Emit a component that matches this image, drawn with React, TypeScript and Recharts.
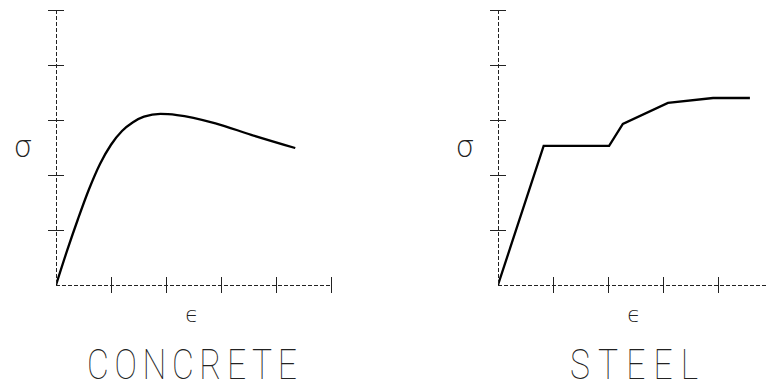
import { LineChart, Line, XAxis, YAxis } from 'recharts';

// strain / stress, axis units = one tick step
const concreteStrain = [0, 0.2, 0.4, 0.6, 0.8, 1.0, 1.2, 1.4, 1.6, 1.9, 2.2, 2.9, 3.55, 4.35];
const concreteStress = [0, 0.62, 1.2, 1.74, 2.2, 2.55, 2.8, 2.96, 3.06, 3.11, 3.09, 2.94, 2.73, 2.49];

const steelStrain = [0, 0.83, 2.02, 2.27, 3.09, 3.91, 4.58];
const steelStress = [0, 2.53, 2.53, 2.93, 3.31, 3.4, 3.4];

const tickValues = [1, 2, 3, 4, 5];

const concreteData = concreteStrain.map((e, i) => ({ strain: e, stress: concreteStress[i] }));
const steelData = steelStrain.map((e, i) => ({ strain: e, stress: steelStress[i] }));

const AXIS = '#222';

function XTick(props: any) {
  const { x, y } = props;
  return <line x1={x} x2={x} y1={y - 8} y2={y + 8} stroke={AXIS} strokeWidth={1} shapeRendering="crispEdges" />;
}

function YTick(props: any) {
  const { x, y } = props;
  return <line x1={x - 8} x2={x + 8} y1={y} y2={y} stroke={AXIS} strokeWidth={1} shapeRendering="crispEdges" />;
}

const axisLineStyle = { stroke: AXIS, strokeWidth: 1, strokeDasharray: '4 2', shapeRendering: 'crispEdges' };

interface PanelProps {
  data: { strain: number; stress: number }[];
  width: number;
  left: number;
  curve: 'monotone' | 'linear';
  title: string;
  titleWidth: number;
}

function Panel({ data, width, left, curve, title, titleWidth }: PanelProps) {
  const plotRight = left + 275;
  const mid = left + 136;
  const sx = 0.8;
  return (
    <LineChart
      width={width}
      height={385}
      data={data}
      margin={{ top: 10, left: left - 1, right: width - plotRight, bottom: 99 }}
    >
      <XAxis
        dataKey="strain"
        type="number"
        domain={[0, 5]}
        ticks={tickValues}
        height={1}
        tickSize={0}
        tickMargin={0}
        tickLine={false}
        tick={XTick}
        axisLine={axisLineStyle}
        allowDataOverflow
      />
      <YAxis
        type="number"
        domain={[0, 5]}
        ticks={tickValues}
        width={1}
        tickSize={0}
        tickMargin={0}
        tickLine={false}
        tick={YTick}
        axisLine={axisLineStyle}
      />
      <Line
        type={curve}
        dataKey="stress"
        stroke="#000"
        strokeWidth={2.3}
        dot={false}
        isAnimationActive={false}
      />
      <text x={left - 33} y={157} textAnchor="middle" fontSize={30} fontFamily="DejaVu Sans" fontWeight={200} fill="#222">
        σ
      </text>
      <text x={mid} y={322} textAnchor="middle" fontSize={22} fontFamily="DejaVu Sans" fontWeight={200} fill="#222">
        ϵ
      </text>
      <text
        transform={`translate(${mid},379) scale(${sx},1)`}
        x={0}
        y={0}
        textAnchor="middle"
        fontSize={42}
        fontFamily="Roboto"
        fontWeight={100}
        fill="#222"
        textLength={titleWidth / sx}
        lengthAdjust="spacing"
      >
        {title}
      </text>
    </LineChart>
  );
}

export default function App() {
  return (
    <div style={{ position: 'absolute', left: 0, top: 0, width: 766, height: 385, overflow: 'hidden', background: '#fff' }}>
      <div style={{ position: 'absolute', left: 0, top: 0 }}>
        <Panel data={concreteData} width={383} left={56} curve="monotone" title="CONCRETE" titleWidth={210} />
      </div>
      <div style={{ position: 'absolute', left: 383, top: 0 }}>
        <Panel data={steelData} width={400} left={115} curve="linear" title="STEEL" titleWidth={128} />
      </div>
    </div>
  );
}
